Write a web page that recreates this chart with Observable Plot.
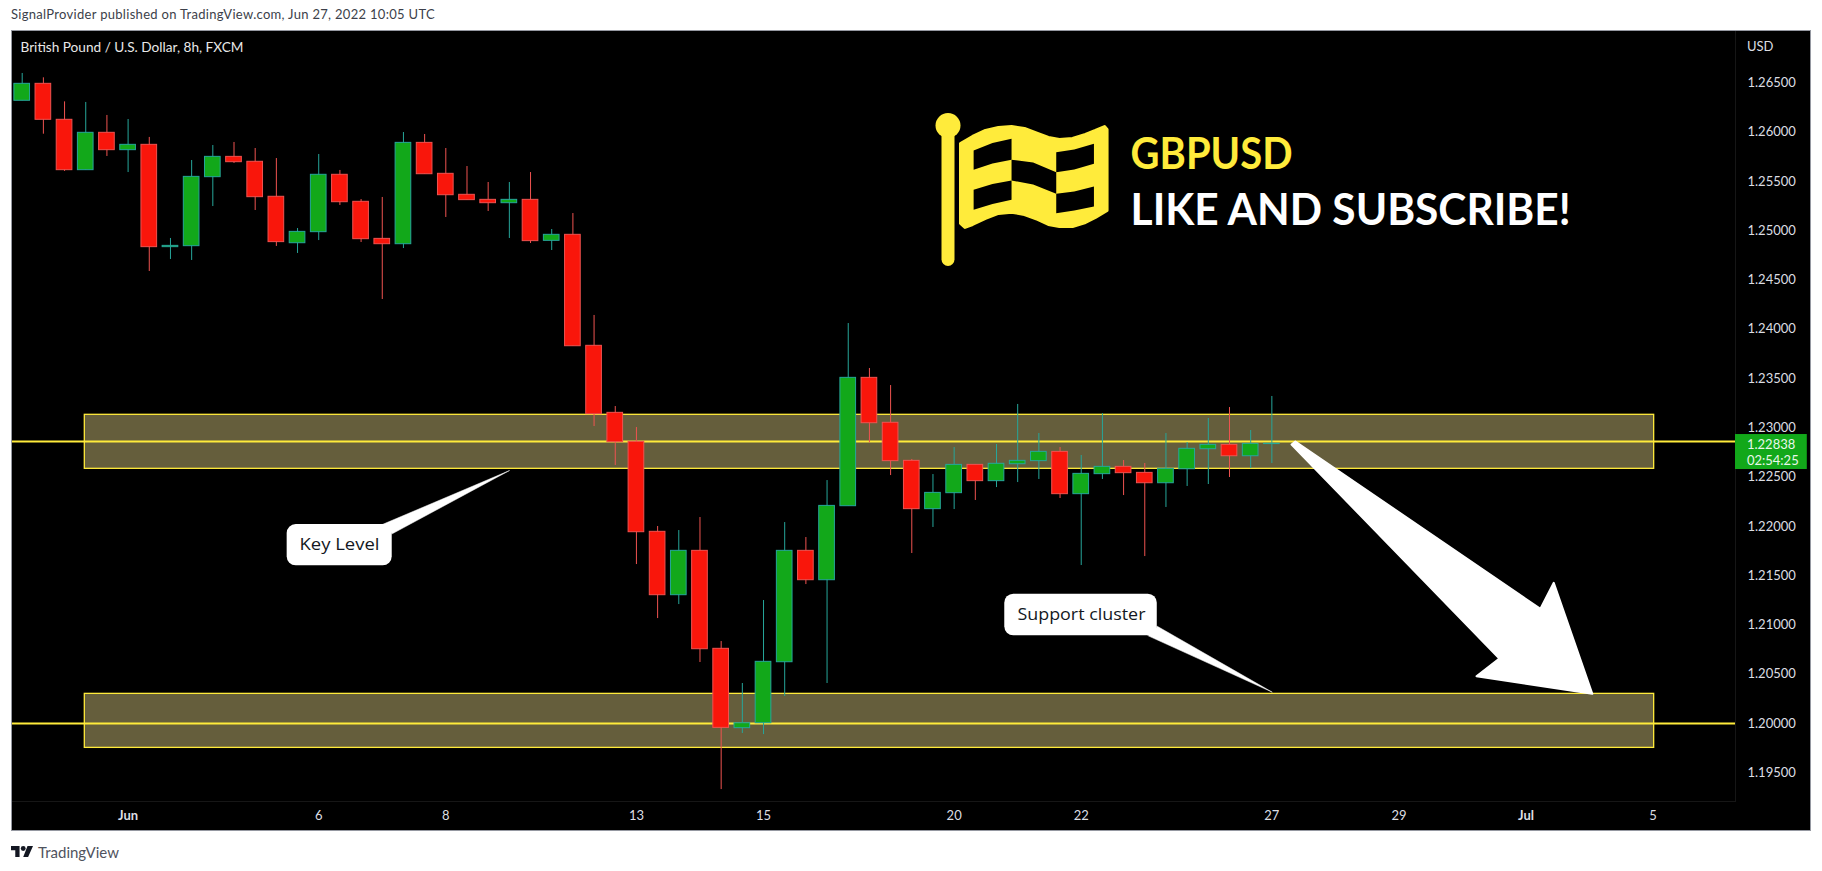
<!DOCTYPE html>
<html>
<head>
<meta charset="utf-8">
<script src="https://cdn.jsdelivr.net/npm/d3@7"></script>
<script src="https://cdn.jsdelivr.net/npm/@observablehq/plot@0.6"></script>
<style>
html,body{margin:0;padding:0;background:#fff;overflow:hidden;width:1822px;height:871px}
#head{height:30px;padding-left:11px;font:13px/29px Lato,sans-serif;letter-spacing:.3px;color:#3c3f4a;box-sizing:border-box}
#chart svg{display:block;margin-left:11px;outline:1px solid #9598a1;outline-offset:-1px}
#foot{height:40px;padding-left:11px;display:flex;align-items:flex-start;padding-top:9px;box-sizing:border-box;font:15px/24px Lato,sans-serif;color:#50535e}
#foot svg{margin-right:5px;margin-top:6px}
</style>
</head>
<body>
<div id="head">SignalProvider published on TradingView.com, Jun 27, 2022 10:05 UTC</div>
<div id="chart"></div>
<div id="foot"><svg width="22" height="11" viewBox="0 0 36 18"><path d="M14 18H7V7H0V0h14zM28 18h-8L27 0h9z" fill="#131722"/><circle cx="20" cy="4" r="4" fill="#131722"/></svg>TradingView</div>
<script>
const opens=[1.26318,1.26490,1.26125,1.25614,1.25993,1.25817,1.25871,1.24833,1.24843,1.25543,1.25749,1.25699,1.25344,1.24873,1.24985,1.25567,1.25293,1.24917,1.24863,1.25891,1.25577,1.25364,1.25313,1.25279,1.25313,1.24897,1.24958,1.23832,1.23152,1.22858,1.21945,1.21302,1.21752,1.20758,1.19953,1.20003,1.20622,1.21752,1.21454,1.22205,1.23507,1.23051,1.22665,1.22175,1.22337,1.22624,1.22459,1.22631,1.22662,1.22756,1.22327,1.22530,1.22604,1.22543,1.22438,1.22580,1.22783,1.22827,1.22712,1.22835];
const highs=[1.26595,1.26551,1.26307,1.26301,1.26169,1.26128,1.25946,1.24921,1.25712,1.25864,1.25895,1.25834,1.25732,1.25022,1.25773,1.25611,1.25316,1.25337,1.25996,1.25976,1.25834,1.25651,1.25489,1.25489,1.25590,1.25012,1.25174,1.24140,1.23216,1.23003,1.21999,1.21958,1.22090,1.20832,1.20406,1.21248,1.22039,1.21887,1.22465,1.24058,1.23602,1.23429,1.22679,1.22526,1.22800,1.22624,1.22831,1.23237,1.22942,1.22800,1.22719,1.23145,1.22668,1.22638,1.22942,1.22851,1.23095,1.23206,1.22973,1.23318];
const lows=[1.26318,1.25979,1.25601,1.25614,1.25753,1.25590,1.24586,1.24708,1.24698,1.25245,1.25682,1.25205,1.24840,1.24769,1.24900,1.25256,1.24880,1.24302,1.24819,1.25573,1.25134,1.25310,1.25195,1.24921,1.24870,1.24799,1.23828,1.23013,1.22618,1.21613,1.21065,1.21207,1.20619,1.19330,1.19899,1.19888,1.20274,1.21410,1.20406,1.22205,1.22848,1.22516,1.21725,1.21989,1.22171,1.22263,1.22394,1.22445,1.22476,1.22283,1.21603,1.22476,1.22313,1.21694,1.22192,1.22405,1.22425,1.22496,1.22587,1.22638];
const closes=[1.26490,1.26125,1.25614,1.25993,1.25817,1.25871,1.24833,1.24846,1.25546,1.25749,1.25695,1.25340,1.24884,1.24988,1.25567,1.25289,1.24914,1.24863,1.25891,1.25573,1.25360,1.25310,1.25279,1.25313,1.24894,1.24958,1.23828,1.23138,1.22854,1.21941,1.21302,1.21752,1.20754,1.19956,1.20003,1.20626,1.21752,1.21454,1.22208,1.23507,1.23047,1.22662,1.22175,1.22340,1.22624,1.22459,1.22635,1.22665,1.22756,1.22327,1.22533,1.22604,1.22540,1.22438,1.22584,1.22787,1.22827,1.22712,1.22837,1.22838];

const priceTicks=[1.195,1.2,1.205,1.21,1.215,1.22,1.225,1.23,1.235,1.24,1.245,1.25,1.255,1.26,1.265];
const dayTicks=[14,20,29,35,44,50,59,65,77];
const dayLabels=["6","8","13","15","20","22","27","29","5"];
const monthTicks=[5,71];
const monthLabels=["Jun","Jul"];

const zones=[{x1:2.956,x2:77.05,y1:1.22584,y2:1.23132},{x1:2.956,x2:77.05,y1:1.19753,y2:1.20301}];
const levels=[1.22861,1.2];

const arrowX=[59.93,60.11,71.68,72.31,74.13,68.66,69.74];
const arrowY=[1.22831,1.22861,1.21164,1.21428,1.20301,1.20480,1.20659];
const calloutBoxes=[{x1:12.51,x2:17.47,y1:1.21600,y2:1.22019},{x1:46.39,x2:53.59,y1:1.20890,y2:1.21312}];
const calloutTails=[
 {k:"a",x:17.0,y:1.22019},{k:"a",x:23.01,y:1.22567},{k:"a",x:17.47,y:1.21925},
 {k:"b",x:53.16,y:1.20890},{k:"b",x:59.02,y:1.20318},{k:"b",x:53.59,y:1.20987}];
const calloutText=[{x:14.98,y:1.21816,t:"Key Level"},{x:50.01,y:1.21101,t:"Support cluster"}];

const flagOutlineX=[44.30,44.87,45.48,46.09,46.71,47.32,47.94,48.45,48.97,49.59,50.20,50.67,51.10,51.22,51.22,50.67,50.20,49.59,48.97,48.45,47.94,47.32,46.71,46.09,45.48,44.87,44.51,44.30];
const flagOutlineY=[1.25885,1.25956,1.26017,1.26047,1.26057,1.26037,1.25986,1.25946,1.25925,1.25935,1.25976,1.26017,1.26057,1.26027,1.25205,1.25134,1.25083,1.25043,1.25043,1.25063,1.25114,1.25164,1.25188,1.25175,1.25124,1.25063,1.25033,1.25073];
const flagCells=[
 [[44.92,1.25814],[45.81,1.25890],[46.71,1.25932],[46.71,1.25719],[45.81,1.25682],[44.92,1.25618]],
 [[48.82,1.25796],[49.67,1.25824],[50.60,1.25882],[50.60,1.25679],[49.67,1.25621],[48.82,1.25594]],
 [[46.71,1.25719],[47.73,1.25692],[48.82,1.25594],[48.82,1.25374],[47.73,1.25469],[46.71,1.25509]],
 [[44.92,1.25415],[45.81,1.25474],[46.71,1.25509],[46.71,1.25313],[45.81,1.25271],[44.92,1.25212]],
 [[48.82,1.25374],[49.67,1.25398],[50.60,1.25448],[50.60,1.25245],[49.67,1.25205],[48.82,1.25177]]
];
const flagPoleX=[43.71,43.71];
const flagPoleY=[1.26067,1.24708];

const bars=opens.map((o,i)=>({i,open:o,high:highs[i],low:lows[i],close:closes[i]}));
const up=bars.filter(d=>d.close>=d.open), down=bars.filter(d=>d.close<d.open);
const GREEN="#12A81A", TEAL="#26A69A", RED="#F9160B", CORAL="#EF5350", YEL="#FFEB3B";
const cellPts=flagCells.flatMap((c,k)=>c.map(p=>({k,x:p[0],y:p[1]})));
const axisFill="#dcdee3";

const candle=(data,stroke,fill)=>[
  Plot.ruleX(data,{x:"i",y1:"low",y2:"high",stroke,strokeWidth:1}),
  Plot.rect(data,{x1:d=>d.i-0.37,x2:d=>d.i+0.37,y1:"open",y2:"close",fill,stroke,strokeWidth:1})
];

const plot=Plot.plot({
  width:1800,height:801,marginTop:0,marginLeft:0,marginRight:76,marginBottom:30,
  style:{background:"#000",fontFamily:"Lato, sans-serif",color:axisFill,overflow:"visible"},
  x:{type:"linear",domain:[-0.505,80.89],axis:null},
  y:{type:"linear",domain:[1.19209,1.27031],axis:null},
  marks:[
    Plot.frame({anchor:"right",stroke:"#161616"}),
    Plot.frame({anchor:"bottom",stroke:"#161616"}),
    Plot.rect(zones,{x1:"x1",x2:"x2",y1:"y1",y2:"y2",fill:"#655E3C",stroke:YEL,strokeWidth:1.3}),
    Plot.ruleY(levels,{stroke:YEL,strokeWidth:2}),
    ...candle(up,TEAL,GREEN),
    ...candle(down,CORAL,RED),
    Plot.line(arrowX.map((x,i)=>({x,y:arrowY[i]})),{x:"x",y:"y",curve:"linear-closed",fill:"#fff",stroke:"#fff",strokeWidth:2,strokeLinejoin:"round"}),
    Plot.line(calloutTails,{x:"x",y:"y",z:"k",curve:"linear-closed",fill:"#fff",stroke:"#fff",strokeWidth:0.5}),
    Plot.rect(calloutBoxes,{x1:"x1",x2:"x2",y1:"y1",y2:"y2",fill:"#fff",rx:9}),
    Plot.text(calloutText,{x:"x",y:"y",text:"t",fill:"#131722",fontSize:17,fontFamily:"'Open Sans', sans-serif"}),
    Plot.line(flagPoleX.map((x,i)=>({x,y:flagPoleY[i]})),{x:"x",y:"y",stroke:YEL,strokeWidth:13,strokeLinecap:"round"}),
    Plot.dot([{x:flagPoleX[0],y:flagPoleY[0]}],{x:"x",y:"y",r:12.5,fill:YEL}),
    Plot.line(flagOutlineX.map((x,i)=>({x,y:flagOutlineY[i]})),{x:"x",y:"y",curve:"linear-closed",fill:YEL,stroke:YEL,strokeWidth:3,strokeLinejoin:"round"}),
    Plot.line(cellPts,{x:"x",y:"y",z:"k",curve:"linear-closed",fill:"#000",stroke:"none"}),
    Plot.text(["GBPUSD"],{x:52.33,y:1.25763,text:d=>d,textAnchor:"start",fill:YEL,fontSize:43,fontWeight:"bold"}),
    Plot.text(["LIKE AND SUBSCRIBE!"],{x:52.33,y:1.25195,text:d=>d,textAnchor:"start",fill:"#fff",fontSize:43,fontWeight:"bold"}),
    Plot.text(["British Pound / U.S. Dollar, 8h, FXCM"],{x:-0.08,y:1.26859,text:d=>d,textAnchor:"start",fill:"#e8e8e8",fontSize:13}),
    Plot.text(["USD"],{x:81.43,y:1.26869,text:d=>d,textAnchor:"start",fill:axisFill,fontSize:13}),
    Plot.axisY({anchor:"right",ticks:priceTicks,tickSize:0,tickPadding:12,tickFormat:d=>d.toFixed(5),fontSize:13,label:null,fill:axisFill}),
    Plot.axisX({anchor:"bottom",ticks:dayTicks,tickSize:0,tickPadding:9,tickFormat:d=>dayLabels[dayTicks.indexOf(d)],fontSize:13,label:null,fill:axisFill}),
    Plot.axisX({anchor:"bottom",ticks:monthTicks,tickSize:0,tickPadding:9,tickFormat:d=>monthLabels[monthTicks.indexOf(d)],fontSize:13,fontWeight:"bold",label:null,fill:axisFill}),
    Plot.rect([{x1:80.89,x2:84.28,y1:1.22577,y2:1.22932}],{x1:"x1",x2:"x2",y1:"y1",y2:"y2",fill:GREEN}),
    Plot.text([{x:81.43,y:1.22831,t:"1.22838"},{x:81.43,y:1.22668,t:"02:54:25"}],{x:"x",y:"y",text:"t",textAnchor:"start",fill:"#e9f7ea",fontSize:13})
  ]
});
const fitWidths={"GBPUSD":162,"LIKE AND SUBSCRIBE!":440,"Key Level":80,"Support cluster":128,"British Pound / U.S. Dollar, 8h, FXCM":223};
d3.select(plot).selectAll("text").each(function(){
  const w=fitWidths[this.textContent];
  if(w) d3.select(this).attr("textLength",w).attr("lengthAdjust","spacingAndGlyphs");
});
document.getElementById("chart").appendChild(plot);
</script>
</body>
</html>
